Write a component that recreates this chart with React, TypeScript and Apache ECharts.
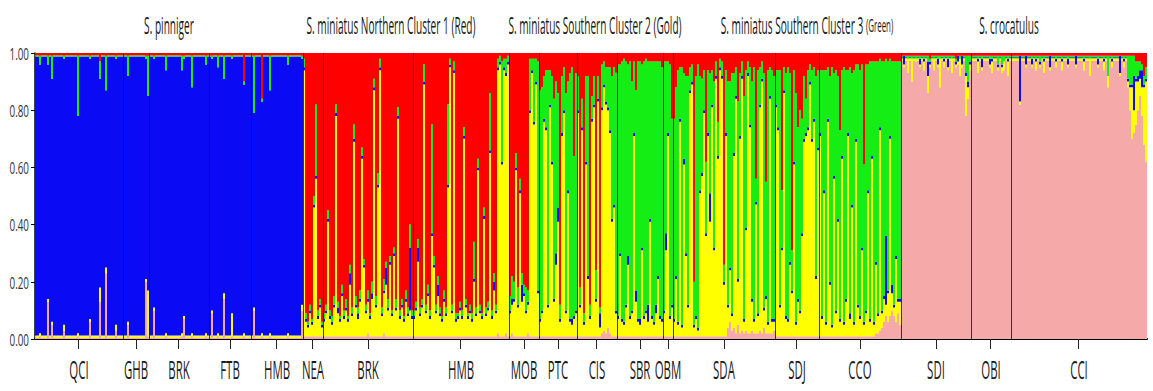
import React, { useEffect, useRef } from "react";
import * as echarts from "echarts";

// Each row: [repeat count, Pink, Yellow, Blue, Green, Red] (percent membership, bottom -> top)
type Row = [number, number, number, number, number, number];

const CLUSTER_NAMES = ["Pink", "Yellow", "Blue", "Green", "Red"];
const CLUSTER_COLORS = ["#F5A9A9", "#FFFF00", "#0A0AF5", "#14EE14", "#FF0000"];

// ---- S. pinniger ----
const QCI: Row[] = [
  [2, 0.5, 0.7, 97.6, 0.4, 0.8], [1, 1, 1, 94, 3, 1], [3, 0.5, 0.7, 97.6, 0.4, 0.8], [1, 13, 1, 82, 3, 1],
  [1, 0.5, 0.7, 97.6, 0.4, 0.8], [1, 5, 1, 85, 8, 1], [5, 0.5, 0.7, 97.6, 0.4, 0.8], [1, 3, 2, 93, 1, 1],
  [6, 0.5, 0.7, 97.6, 0.4, 0.8], [1, 1, 1, 76, 21, 1], [5, 0.5, 0.7, 97.6, 0.4, 0.8], [1, 6, 1, 91, 1, 1],
  [4, 0.5, 0.7, 97.6, 0.4, 0.8], [1, 13, 5, 73, 6, 3], [2, 0.5, 0.7, 97.6, 0.4, 0.8], [1, 23, 2, 62, 12, 1],
  [4, 0.5, 0.7, 97.6, 0.4, 0.8], [1, 3, 2, 93, 1, 1], [3, 0.5, 0.7, 97.6, 0.4, 0.8],
];
const GHB: Row[] = [
  [2, 0.5, 0.7, 97.6, 0.4, 0.8], [1, 5, 1, 86, 7, 1], [8, 0.5, 0.7, 97.6, 0.4, 0.8], [1, 20, 1, 77, 1, 1], [1, 1, 16, 68, 14, 1],
];
const BRK_P: Row[] = [
  [2, 0.5, 0.7, 97.6, 0.4, 0.8], [1, 10, 1, 87, 1, 1], [5, 0.5, 0.7, 97.6, 0.4, 0.8], [1, 1, 1, 92, 5, 1],
  [7, 0.5, 0.7, 97.6, 0.4, 0.8], [1, 1, 1, 92, 5, 1], [1, 7, 1, 90, 1, 1], [3, 0.5, 0.7, 97.6, 0.4, 0.8],
  [1, 1, 1, 86, 11, 1], [6, 0.5, 0.7, 97.6, 0.4, 0.8], [1, 1, 1, 94, 3, 1], [1, 0.5, 0.7, 97.6, 0.4, 0.8],
];
const FTB: Row[] = [
  [1, 0.5, 0.7, 97.6, 0.4, 0.8], [1, 9, 1, 88, 1, 1], [2, 0.5, 0.7, 97.6, 0.4, 0.8], [1, 1, 1, 93, 4, 1],
  [2, 0.5, 0.7, 97.6, 0.4, 0.8], [1, 14, 2, 75, 8, 1], [3, 0.5, 0.7, 97.6, 0.4, 0.8], [1, 1, 8, 89, 1, 1],
  [5, 0.5, 0.7, 97.6, 0.4, 0.8], [1, 1, 1, 87, 1, 10], [3, 0.5, 0.7, 97.6, 0.4, 0.8],
];
const HMB_P: Row[] = [
  [1, 0.5, 0.7, 97.6, 0.4, 0.8], [1, 10, 1, 68, 20, 1], [3, 0.5, 0.7, 97.6, 0.4, 0.8], [1, 1, 1, 81, 1, 16],
  [3, 0.5, 0.7, 97.6, 0.4, 0.8], [1, 1, 1, 85, 12, 1], [8, 0.5, 0.7, 97.6, 0.4, 0.8], [1, 1, 1, 94, 3, 1],
  [6, 0.5, 0.7, 97.6, 0.4, 0.8], [1, 10, 2, 86, 1, 1],
];

// ---- S. miniatus Northern Cluster 1 ----
const NEA: Row[] = [
  [1, 1, 93, 1, 3, 2], [1, 1, 5, 1, 2, 91], [1, 1, 3, 1, 1, 94], [1, 1, 8, 1, 2, 88],
  [1, 1, 4, 1, 1, 93], [1, 1, 45, 1, 3, 50], [1, 1, 55, 1, 25, 18], [1, 1, 6, 1, 2, 90],
  [1, 1, 10, 1, 2, 86], [1, 1, 3, 1, 1, 94],
];
const BRK_N: Row[] = [
  [1, 1, 5, 1, 2, 91], [1, 1, 8, 1, 2, 88], [1, 1, 40, 1, 3, 55], [1, 1, 6, 1, 2, 90],
  [1, 1, 4, 1, 2, 92], [1, 1, 10, 1, 3, 85], [1, 1, 77, 1, 3, 18], [1, 1, 8, 2, 2, 87],
  [1, 1, 5, 1, 1, 92], [1, 1, 14, 1, 3, 81], [1, 1, 6, 1, 2, 90], [1, 1, 9, 1, 3, 86],
  [1, 1, 5, 1, 1, 92], [1, 1, 18, 4, 3, 74], [1, 1, 7, 1, 2, 89], [1, 1, 68, 1, 5, 25],
  [1, 1, 10, 1, 3, 85], [1, 1, 6, 2, 2, 89], [1, 1, 12, 1, 3, 83], [1, 1, 62, 1, 3, 33],
  [1, 1, 24, 1, 2, 72], [1, 1, 8, 1, 2, 88], [1, 2, 11, 1, 3, 83], [1, 1, 6, 1, 1, 91],
  [1, 1, 13, 2, 4, 80], [1, 1, 86, 1, 3, 9], [1, 1, 10, 1, 3, 85], [1, 1, 52, 1, 4, 42],
  [1, 1, 93, 1, 3, 2], [1, 1, 7, 1, 2, 89], [1, 2, 14, 1, 4, 79], [1, 1, 18, 6, 2, 73],
  [1, 1, 9, 1, 3, 86], [1, 1, 25, 1, 2, 71], [1, 1, 7, 1, 1, 90], [1, 1, 28, 1, 2, 68],
  [1, 1, 9, 1, 3, 86], [1, 1, 76, 1, 3, 19], [1, 1, 6, 1, 2, 90], [1, 1, 10, 1, 2, 86],
  [1, 1, 5, 1, 1, 92], [1, 1, 12, 1, 3, 83], [1, 1, 7, 1, 2, 89], [1, 1, 9, 22, 8, 60],
  [1, 1, 6, 1, 2, 90],
];
const HMB_N: Row[] = [
  [1, 1, 6, 1, 2, 90], [1, 1, 9, 1, 2, 87], [1, 1, 26, 5, 3, 65], [1, 1, 7, 1, 2, 89],
  [1, 1, 10, 1, 2, 86], [1, 1, 88, 1, 6, 4], [1, 1, 8, 1, 2, 88], [1, 1, 14, 1, 3, 81],
  [1, 1, 6, 1, 2, 90], [1, 1, 35, 1, 38, 25], [1, 1, 24, 1, 3, 71], [1, 1, 8, 1, 2, 88],
  [1, 1, 14, 4, 3, 78], [1, 1, 7, 1, 2, 89], [1, 1, 5, 1, 1, 92], [1, 1, 12, 1, 3, 83],
  [1, 1, 7, 1, 2, 89], [1, 1, 52, 1, 28, 18], [1, 1, 94, 1, 2, 2], [1, 1, 8, 1, 2, 88],
  [1, 1, 92, 1, 3, 3], [1, 1, 5, 1, 2, 91], [1, 1, 6, 1, 1, 91], [1, 1, 9, 1, 2, 87],
  [1, 1, 6, 1, 2, 90], [1, 1, 69, 1, 3, 26], [1, 1, 10, 1, 2, 86], [1, 1, 6, 1, 1, 91],
  [1, 1, 8, 1, 2, 88], [1, 1, 5, 1, 2, 91], [1, 1, 19, 1, 13, 66], [1, 1, 7, 1, 2, 89],
  [1, 1, 58, 1, 3, 37], [1, 1, 8, 1, 2, 88], [1, 1, 6, 1, 1, 91], [1, 1, 41, 1, 3, 54],
  [1, 1, 7, 1, 2, 89], [1, 1, 9, 1, 2, 87], [1, 1, 64, 1, 20, 14], [1, 1, 6, 1, 2, 90],
  [1, 1, 16, 3, 3, 77], [1, 1, 8, 1, 2, 88], [1, 2, 92, 1, 3, 2], [1, 1, 95, 1, 2, 1],
  [1, 1, 60, 1, 35, 3], [1, 1, 93, 1, 3, 2], [1, 2, 90, 1, 5, 2], [1, 1, 95, 1, 2, 1],
];

// ---- S. miniatus Southern Cluster 2 ----
const MOB: Row[] = [
  [1, 1, 8, 1, 5, 85], [1, 2, 10, 2, 8, 78], [1, 1, 12, 1, 6, 80], [1, 1, 58, 1, 5, 35],
  [1, 1, 10, 1, 6, 82], [1, 1, 50, 1, 4, 44], [1, 1, 12, 6, 4, 77], [1, 1, 14, 1, 3, 81],
  [1, 1, 8, 1, 8, 82], [1, 2, 10, 1, 4, 83], [1, 1, 78, 1, 18, 2], [1, 1, 92, 1, 4, 2],
  [1, 1, 74, 1, 22, 2], [1, 1, 88, 1, 8, 2], [1, 1, 15, 1, 80, 3],
];
const PTC: Row[] = [
  [1, 1, 5, 1, 80, 13], [1, 1, 8, 1, 78, 12], [1, 1, 75, 1, 15, 8], [1, 1, 72, 1, 20, 6],
  [1, 1, 10, 1, 82, 6], [1, 1, 80, 1, 12, 6], [1, 1, 60, 1, 30, 8], [1, 1, 12, 1, 70, 16],
  [1, 1, 25, 4, 60, 10], [1, 1, 40, 5, 40, 14], [1, 1, 5, 1, 5, 88], [1, 1, 70, 1, 20, 8],
  [1, 1, 78, 1, 15, 5], [1, 1, 8, 1, 76, 14], [1, 1, 50, 1, 38, 10], [1, 1, 5, 1, 86, 7],
  [1, 1, 4, 2, 88, 5], [1, 1, 6, 1, 56, 36], [1, 1, 8, 1, 83, 7],
];
const CIS: Row[] = [
  [1, 1, 78, 1, 12, 8], [1, 1, 10, 1, 6, 82], [1, 1, 72, 1, 10, 16], [1, 1, 4, 1, 3, 91],
  [1, 1, 60, 1, 30, 8], [1, 1, 20, 1, 70, 8], [1, 1, 6, 1, 4, 88], [1, 1, 75, 1, 8, 15],
  [1, 1, 80, 1, 10, 8], [1, 1, 12, 1, 10, 76], [1, 1, 82, 1, 8, 8], [1, 1, 3, 5, 2, 89],
  [1, 2, 78, 1, 15, 4], [1, 3, 85, 1, 8, 3], [1, 2, 80, 1, 12, 5], [1, 4, 76, 1, 14, 5],
  [1, 2, 70, 1, 22, 5], [1, 1, 40, 1, 50, 8], [1, 1, 45, 1, 48, 5], [1, 1, 8, 1, 84, 7],
];
const SBR: Row[] = [
  [1, 1, 6, 1, 88, 4], [1, 1, 28, 1, 66, 4], [1, 1, 5, 1, 90, 3], [1, 1, 4, 1, 92, 2],
  [1, 1, 10, 1, 85, 3], [1, 1, 25, 3, 67, 4], [1, 1, 6, 1, 89, 3], [1, 1, 8, 1, 80, 10],
  [1, 1, 70, 1, 25, 3], [1, 1, 12, 4, 70, 13], [1, 1, 5, 1, 90, 3], [1, 1, 4, 2, 90, 3],
  [1, 1, 30, 1, 64, 4], [1, 1, 6, 1, 89, 3], [1, 1, 8, 1, 88, 2], [1, 1, 5, 6, 85, 3],
  [1, 1, 40, 1, 55, 3], [1, 1, 6, 1, 89, 3], [1, 1, 4, 1, 91, 3], [1, 1, 8, 3, 85, 3],
  [1, 1, 20, 1, 75, 3], [1, 1, 6, 1, 89, 3], [1, 1, 5, 1, 88, 5],
];
const OBM: Row[] = [
  [1, 1, 8, 1, 87, 3], [1, 1, 30, 6, 60, 3], [1, 1, 70, 1, 25, 3], [1, 1, 6, 1, 88, 4], [1, 1, 10, 1, 65, 23],
];

// ---- S. miniatus Southern Cluster 3 ----
const SDA: Row[] = [
  [1, 1, 5, 1, 70, 23], [1, 1, 20, 1, 66, 12], [1, 1, 4, 1, 88, 6], [1, 1, 75, 1, 18, 5],
  [1, 1, 3, 1, 90, 5], [1, 1, 60, 2, 30, 7], [1, 1, 28, 1, 62, 8], [1, 1, 10, 1, 80, 8],
  [1, 1, 85, 1, 8, 5], [1, 1, 88, 1, 6, 4], [1, 1, 3, 1, 15, 80], [1, 1, 6, 1, 84, 8],
  [1, 1, 2, 1, 92, 4], [1, 1, 50, 1, 40, 8], [1, 1, 56, 1, 33, 9], [1, 1, 78, 1, 14, 6],
  [1, 1, 35, 1, 25, 38], [1, 1, 70, 1, 22, 6], [1, 1, 40, 10, 42, 7], [1, 1, 80, 1, 12, 6],
  [1, 1, 30, 1, 58, 10], [1, 1, 90, 1, 5, 3], [1, 1, 62, 1, 12, 24], [1, 1, 93, 1, 3, 2],
  [1, 1, 90, 1, 5, 3], [1, 1, 18, 1, 6, 74], [1, 1, 70, 1, 22, 6], [1, 4, 7, 1, 78, 10],
  [1, 6, 18, 1, 65, 10], [1, 3, 5, 1, 84, 7], [1, 4, 60, 1, 28, 7], [1, 2, 82, 1, 10, 5],
  [1, 5, 15, 1, 62, 17], [1, 2, 68, 1, 22, 7], [1, 3, 88, 1, 5, 3], [1, 2, 4, 1, 78, 15],
  [1, 3, 35, 1, 55, 6], [1, 2, 90, 1, 4, 3], [1, 2, 72, 1, 20, 5], [1, 3, 10, 1, 76, 10],
  [1, 2, 4, 1, 88, 5], [1, 2, 45, 1, 8, 44], [1, 2, 6, 1, 85, 6], [1, 3, 78, 1, 13, 5],
  [1, 2, 88, 1, 6, 3], [1, 4, 6, 1, 82, 7], [1, 2, 12, 1, 40, 45], [1, 2, 3, 1, 88, 6],
  [1, 2, 82, 1, 10, 5], [1, 2, 4, 1, 87, 6], [1, 3, 3, 1, 85, 8],
];
const SDJ: Row[] = [
  [1, 1, 80, 1, 12, 6], [1, 1, 72, 1, 20, 6], [1, 1, 10, 1, 82, 6], [1, 1, 30, 1, 20, 48],
  [1, 1, 85, 1, 8, 5], [1, 1, 6, 1, 85, 7], [1, 1, 5, 1, 88, 5], [1, 1, 25, 1, 66, 7],
  [1, 1, 15, 1, 14, 69], [1, 1, 60, 1, 32, 6], [1, 1, 4, 1, 80, 14], [1, 1, 12, 1, 60, 26],
  [1, 1, 8, 1, 70, 20], [1, 1, 35, 1, 40, 23], [1, 1, 68, 1, 22, 8], [1, 1, 70, 1, 12, 16],
  [1, 1, 72, 1, 20, 6], [1, 1, 88, 1, 6, 4], [1, 1, 68, 1, 24, 6], [1, 1, 75, 1, 18, 5],
  [1, 1, 20, 1, 70, 8], [1, 1, 65, 1, 27, 6],
];
const CCO: Row[] = [
  [1, 1, 70, 1, 22, 6], [1, 1, 6, 1, 86, 6], [1, 1, 50, 1, 42, 6], [1, 1, 4, 1, 88, 6],
  [1, 1, 75, 1, 18, 5], [1, 1, 18, 1, 72, 8], [1, 1, 3, 1, 90, 5], [1, 1, 55, 1, 36, 7],
  [1, 1, 8, 1, 84, 6], [1, 1, 40, 1, 50, 8], [1, 1, 5, 1, 66, 27], [1, 1, 62, 1, 30, 6],
  [1, 1, 4, 1, 89, 5], [1, 1, 12, 1, 80, 6], [1, 1, 70, 1, 22, 6], [1, 1, 6, 2, 86, 5],
  [1, 1, 45, 1, 46, 7], [1, 1, 4, 1, 88, 6], [1, 1, 68, 1, 26, 4], [1, 1, 10, 1, 84, 4],
  [1, 1, 6, 1, 86, 6], [1, 1, 30, 1, 64, 4], [1, 1, 4, 1, 55, 39], [1, 1, 8, 1, 86, 4],
  [1, 1, 50, 1, 44, 4], [1, 1, 5, 1, 90, 3], [1, 1, 62, 1, 33, 3], [1, 1, 4, 1, 91, 3],
  [1, 2, 24, 1, 70, 3], [1, 2, 6, 1, 88, 3], [1, 3, 70, 1, 24, 2], [1, 4, 5, 1, 87, 3],
  [1, 6, 8, 1, 82, 3], [1, 8, 4, 24, 62, 2], [1, 6, 10, 1, 80, 3], [1, 8, 62, 1, 27, 2],
  [1, 10, 6, 3, 78, 3], [1, 8, 3, 1, 85, 3], [1, 6, 22, 1, 68, 3], [1, 9, 4, 1, 83, 3],
  [1, 5, 8, 1, 83, 3],
];

// ---- S. crocatulus ----
const SDI: Row[] = [
  [1, 97.2, 1, 0.3, 0.5, 1], [1, 95, 1, 3, 0, 1], [1, 97.2, 1, 0.3, 0.5, 1], [1, 93, 5, 0, 1, 1],
  [1, 97.2, 1, 0.3, 0.5, 1], [1, 90, 8, 0, 1, 1], [1, 97.2, 1, 0.3, 0.5, 1], [1, 97, 1, 0, 1, 1],
  [1, 97.2, 1, 0.3, 0.5, 1], [1, 95, 1, 2, 1, 1], [1, 97.2, 1, 0.3, 0.5, 1], [1, 94, 3, 1, 1, 1],
  [1, 97.2, 1, 0.3, 0.5, 1], [1, 86, 6, 5, 2, 1], [1, 95, 1, 1, 1, 2], [1, 97.2, 1, 0.3, 0.5, 1],
  [1, 94, 4, 0, 1, 1], [1, 97.2, 1, 0.3, 0.5, 1], [1, 95, 1, 2, 1, 1], [1, 88, 10, 0, 1, 1],
  [1, 97.2, 1, 0.3, 0.5, 1], [1, 95, 2, 1, 1, 1], [1, 97.2, 1, 0.3, 0.5, 1], [1, 94, 1, 3, 1, 1],
  [1, 97.2, 1, 0.3, 0.5, 1], [1, 93, 5, 0, 1, 1], [1, 97.2, 1, 0.3, 0.5, 1], [1, 95, 1, 1, 1, 2],
  [1, 96, 1, 2, 0, 1], [1, 92, 6, 0, 1, 1], [1, 95, 1, 3, 0, 1], [1, 97.2, 1, 0.3, 0.5, 1],
  [1, 78, 14, 1, 6, 1], [1, 84, 4, 2, 9, 1], [1, 94, 2, 1, 2, 1],
];
const OBI: Row[] = [
  [3, 97.2, 1, 0.3, 0.5, 1], [1, 93, 4, 1, 1, 1], [1, 97.2, 1, 0.3, 0.5, 1], [1, 94, 1, 3, 1, 1],
  [3, 97.2, 1, 0.3, 0.5, 1], [1, 95, 1, 2, 1, 1], [1, 93, 4, 1, 1, 1], [2, 97.2, 1, 0.3, 0.5, 1],
  [1, 94, 1, 1, 3, 1], [1, 97.2, 1, 0.3, 0.5, 1], [1, 93, 2, 1, 3, 1], [1, 94, 3, 0, 2, 1],
  [1, 97.2, 1, 0.3, 0.5, 1], [1, 92, 5, 1, 1, 1], [1, 97.2, 1, 0.3, 0.5, 1],
];
const CCI: Row[] = [
  [4, 97.2, 1, 0.3, 0.5, 1], [1, 82, 1, 16, 0, 1], [2, 97.2, 1, 0.3, 0.5, 1], [1, 95, 1, 3, 0, 1],
  [2, 97.2, 1, 0.3, 0.5, 1], [1, 95, 1, 2, 1, 1], [1, 97.2, 1, 0.3, 0.5, 1], [1, 94, 3, 1, 1, 1],
  [1, 97.2, 1, 0.3, 0.5, 1], [1, 95, 1, 1, 2, 1], [1, 97.2, 1, 0.3, 0.5, 1], [1, 93, 4, 1, 1, 1],
  [2, 97.2, 1, 0.3, 0.5, 1], [1, 94, 1, 4, 0, 1], [2, 97.2, 1, 0.3, 0.5, 1], [1, 95, 2, 1, 1, 1],
  [2, 97.2, 1, 0.3, 0.5, 1], [1, 94, 3, 1, 1, 1], [2, 97.2, 1, 0.3, 0.5, 1], [1, 95, 1, 2, 1, 1],
  [3, 97.2, 1, 0.3, 0.5, 1], [1, 95, 1, 3, 0, 1], [3, 97.2, 1, 0.3, 0.5, 1], [1, 94, 3, 1, 1, 1],
  [2, 97.2, 1, 0.3, 0.5, 1], [1, 92, 6, 0, 1, 1], [3, 97.2, 1, 0.3, 0.5, 1], [1, 95, 1, 2, 1, 1],
  [2, 97.2, 1, 0.3, 0.5, 1], [1, 94, 3, 1, 1, 1], [1, 97.2, 1, 0.3, 0.5, 1], [1, 88, 4, 0, 7, 1],
  [1, 97.2, 1, 0.3, 0.5, 1], [1, 95, 2, 1, 1, 1], [3, 97.2, 1, 0.3, 0.5, 1], [1, 92, 1, 6, 0, 1],
  [1, 97.2, 1, 0.3, 0.5, 1], [1, 95, 2, 1, 1, 1], [1, 97.2, 1, 0.3, 0.5, 1],
  [1, 88, 2, 1, 8, 1], [1, 80, 8, 1, 10, 1], [1, 70, 18, 1, 10, 1], [1, 72, 8, 12, 7, 1],
  [1, 75, 15, 1, 6, 3], [1, 80, 10, 2, 5, 3], [1, 85, 6, 3, 3, 3], [1, 78, 10, 6, 2, 4],
  [1, 68, 20, 1, 3, 8], [1, 62, 28, 1, 4, 5],
];

const POP_CODES = ["QCI", "GHB", "BRK", "FTB", "HMB", "NEA", "BRK", "HMB", "MOB", "PTC", "CIS", "SBR", "OBM", "SDA", "SDJ", "CCO", "SDI", "OBI", "CCI"];
const POP_ROWS: Row[][] = [QCI, GHB, BRK_P, FTB, HMB_P, NEA, BRK_N, HMB_N, MOB, PTC, CIS, SBR, OBM, SDA, SDJ, CCO, SDI, OBI, CCI];

const GROUP_TITLES = ["S. pinniger", "S. miniatus Northern Cluster 1 (Red)", "S. miniatus Southern Cluster 2 (Gold)", "S. miniatus Southern Cluster 3 ", "S. crocatulus"];
const GROUP_SUFFIX = ["", "", "", "(Green)", ""];
const GROUP_ANCHORS = [67, 178, 280, 386, 487]; // individual index under each title's centre

const Y_TICKS = [0, 0.2, 0.4, 0.6, 0.8, 1.0];

const FONT = '"Open Sans", "Liberation Sans", sans-serif';

export default function App() {
  const ref = useRef<HTMLDivElement>(null);

  useEffect(() => {
    if (!ref.current) return;
    const chart = echarts.init(ref.current, null, { renderer: "svg" });

    const individuals: number[][] = [];
    const pops: { code: string; start: number; end: number }[] = [];
    POP_ROWS.forEach((rows, p) => {
      const start = individuals.length;
      rows.forEach((r) => {
        const vals = r.slice(1);
        const tot = vals.reduce((a, b) => a + b, 0);
        for (let k = 0; k < r[0]; k++) individuals.push(vals.map((v) => v / tot));
      });
      pops.push({ code: POP_CODES[p], start, end: individuals.length });
    });
    const N = individuals.length;
    const cats = individuals.map((_, i) => String(i));
    const centerIdx = new Set(pops.map((p) => Math.floor((p.start + p.end - 1) / 2)));
    const boundaries = pops.slice(0, -1).map((p) => p.end);

    const series: any[] = CLUSTER_NAMES.map((name, c) => ({
      type: "bar",
      name,
      stack: "q",
      xAxisIndex: 0,
      yAxisIndex: 0,
      barWidth: "100%",
      barCategoryGap: "0%",
      silent: true,
      itemStyle: { color: CLUSTER_COLORS[c], borderWidth: 0 },
      data: individuals.map((v) => v[c]),
    }));
    series.push({
      type: "line",
      xAxisIndex: 1,
      yAxisIndex: 0,
      data: [[0, 0], [N, 0]],
      symbol: "none",
      silent: true,
      z: 10,
      lineStyle: { opacity: 0 },
      markLine: {
        silent: true,
        symbol: ["none", "none"],
        label: { show: false },
        lineStyle: { color: "#1a1a1a", width: 1, type: "solid", opacity: 0.85 },
        data: boundaries.map((b) => ({ xAxis: b })),
      },
    });

    chart.setOption({
      animation: false,
      backgroundColor: "#ffffff",
      grid: { left: 35, right: 6, top: 53, bottom: 52, containLabel: false },
      xAxis: [
        {
          type: "category",
          data: cats,
          boundaryGap: true,
          axisLine: { show: true, lineStyle: { color: "#000", width: 2 } },
          axisTick: {
            show: true,
            alignWithLabel: true,
            interval: (idx: number) => centerIdx.has(idx),
            length: 10,
            lineStyle: { color: "#222", width: 1 },
          },
          axisLabel: { show: false },
          splitLine: { show: false },
        },
        { type: "value", min: 0, max: N, show: false },
      ],
      yAxis: {
        type: "value",
        min: 0,
        max: 1,
        interval: 0.2,
        axisLine: { show: true, lineStyle: { color: "#000", width: 1.5 } },
        axisTick: { show: true, length: 4, lineStyle: { color: "#000" } },
        axisLabel: { show: false },
        splitLine: { show: false },
      },
      series,
    });

    const px = (v: number) => chart.convertToPixel({ xAxisIndex: 1 } as any, v) as number;
    const py = (v: number) => chart.convertToPixel({ yAxisIndex: 0 } as any, v) as number;
    const bottom = py(0);

    const graphics: any[] = [];
    pops.forEach((p) => {
      graphics.push({
        type: "text",
        x: px((p.start + p.end) / 2),
        y: bottom + 30,
        scaleX: 0.44,
        silent: true,
        style: { text: p.code, fontFamily: FONT, fontSize: 26, fill: "#1a1a1a", align: "center", verticalAlign: "middle" },
      });
    });
    Y_TICKS.forEach((t) => {
      graphics.push({
        type: "text",
        x: 29,
        y: py(t),
        scaleX: 0.58,
        silent: true,
        style: { text: t.toFixed(2), fontFamily: FONT, fontSize: 17, fill: "#333", align: "right", verticalAlign: "middle" },
      });
    });
    GROUP_TITLES.forEach((t, i) => {
      graphics.push({
        type: "text",
        x: px(GROUP_ANCHORS[i]),
        y: 25,
        scaleX: 0.44,
        silent: true,
        style: {
          text: GROUP_SUFFIX[i] ? `{a|${t}}{b|${GROUP_SUFFIX[i]}}` : `{a|${t}}`,
          fontFamily: FONT,
          fill: "#1a1a1a",
          align: "center",
          verticalAlign: "middle",
          rich: {
            a: { fontFamily: FONT, fontSize: 23, fill: "#1a1a1a" },
            b: { fontFamily: FONT, fontSize: 18, fill: "#1a1a1a" },
          },
        },
      });
    });
    chart.setOption({ graphic: graphics });

    return () => chart.dispose();
  }, []);

  return (
    <div
      ref={ref}
      style={{ position: "absolute", left: 0, top: 0, width: 1153, height: 391, background: "#fff" }}
    />
  );
}
